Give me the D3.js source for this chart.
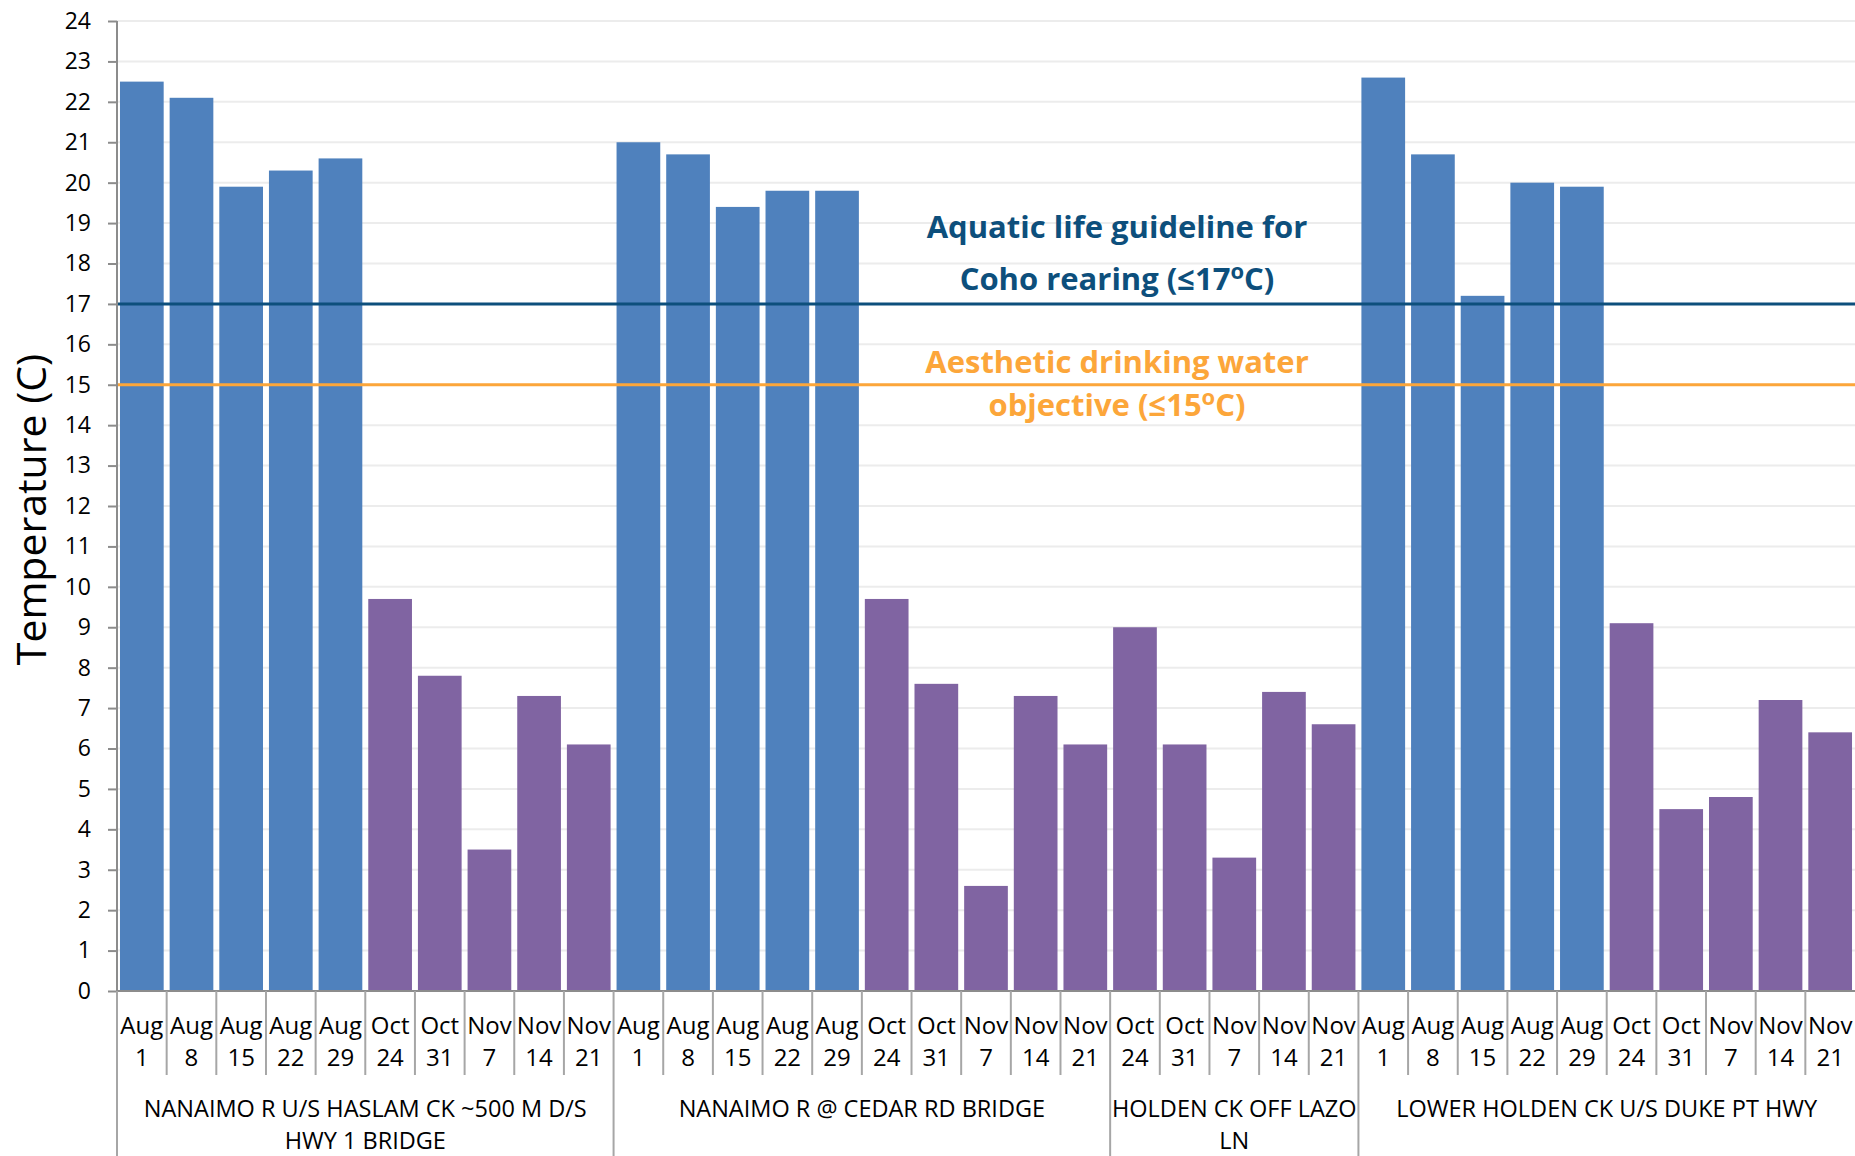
<!DOCTYPE html>
<html>
<head>
<meta charset="utf-8">
<script src="https://cdn.jsdelivr.net/npm/d3@7"></script>
<style>
    body { margin: 0; background: #fff; }
    svg { display: block; font-family: 'Open Sans', 'Noto Sans', sans-serif; }
</style>
</head>
<body>
<svg id="chart"></svg>
<script>
// Sampling sites (group labels, already split into lines as in the source)
const siteLabels = [
    ['NANAIMO R U/S HASLAM CK ~500 M D/S', 'HWY 1 BRIDGE'],
    ['NANAIMO R @ CEDAR RD BRIDGE'],
    ['HOLDEN CK OFF LAZO', 'LN'],
    ['LOWER HOLDEN CK U/S DUKE PT HWY']
];

// Sampling dates per site
const fullDates = ['Aug 1', 'Aug 8', 'Aug 15', 'Aug 22', 'Aug 29', 'Oct 24', 'Oct 31', 'Nov 7', 'Nov 14', 'Nov 21'];
const lazoDates = ['Oct 24', 'Oct 31', 'Nov 7', 'Nov 14', 'Nov 21'];

// Temperatures (C)
const haslamTemps = [22.5, 22.1, 19.9, 20.3, 20.6, 9.7, 7.8, 3.5, 7.3, 6.1];
const cedarTemps = [21.0, 20.7, 19.4, 19.8, 19.8, 9.7, 7.6, 2.6, 7.3, 6.1];
const lazoTemps = [9.0, 6.1, 3.3, 7.4, 6.6];
const dukeTemps = [22.6, 20.7, 17.2, 20.0, 19.9, 9.1, 4.5, 4.8, 7.2, 6.4];

// Guidelines
const cohoLimit = 17;
const drinkingLimit = 15;
const cohoText = ['Aquatic life guideline for', 'Coho rearing (\u226417'];
const drinkingText = ['Aesthetic drinking water', 'objective (\u226415'];

const yTicks = [0, 1, 2, 3, 4, 5, 6, 7, 8, 9, 10, 11, 12, 13, 14, 15, 16, 17, 18, 19, 20, 21, 22, 23, 24];

(function() {
    'use strict';

    const width = 1855, height = 1156;
    const margin = { top: 21, right: 0, left: 117 };
    const plotBottom = 991;

    const sites = [
        { label: siteLabels[0], dates: fullDates, temps: haslamTemps },
        { label: siteLabels[1], dates: fullDates, temps: cedarTemps },
        { label: siteLabels[2], dates: lazoDates, temps: lazoTemps },
        { label: siteLabels[3], dates: fullDates, temps: dukeTemps }
    ];

    // flatten into one row per bar
    const rows = [];
    sites.forEach((s, si) => {
        s.dates.forEach((d, di) => {
            rows.push({ id: si + '-' + di, site: si, date: d, value: s.temps[di] });
        });
    });

    const svg = d3.select('#chart')
        .attr('width', width)
        .attr('height', height);

    const xScale = d3.scaleBand()
        .domain(rows.map(d => d.id))
        .range([margin.left, width - margin.right])
        .paddingInner(0.12)
        .paddingOuter(0.06);

    const yScale = d3.scaleLinear()
        .domain([0, 24])
        .range([plotBottom, margin.top]);

    const step = xScale.step();
    const slotLeft = d => xScale(d) - step * xScale.paddingInner() / 2;

    // Grid lines
    svg.append('g')
        .selectAll('line')
        .data(yTicks.filter(t => t > 0))
        .enter()
        .append('line')
        .attr('x1', margin.left)
        .attr('x2', width)
        .attr('y1', d => yScale(d))
        .attr('y2', d => yScale(d))
        .attr('stroke', '#ececec')
        .attr('stroke-width', 2);

    // Bars
    svg.append('g')
        .selectAll('rect')
        .data(rows)
        .enter()
        .append('rect')
        .attr('x', d => xScale(d.id))
        .attr('y', d => yScale(d.value))
        .attr('width', xScale.bandwidth())
        .attr('height', d => yScale(0) - yScale(d.value))
        .attr('fill', d => d.date.startsWith('Aug') ? '#4f81bd' : '#8064a2');

    // Guideline lines
    svg.append('line')
        .attr('x1', margin.left).attr('x2', width)
        .attr('y1', yScale(cohoLimit)).attr('y2', yScale(cohoLimit))
        .attr('stroke', '#0d4f7c')
        .attr('stroke-width', 3);

    svg.append('line')
        .attr('x1', margin.left).attr('x2', width)
        .attr('y1', yScale(drinkingLimit)).attr('y2', yScale(drinkingLimit))
        .attr('stroke', '#fca63a')
        .attr('stroke-width', 3);

    // Guideline annotations
    function addNote(lines, ys, color) {
        lines.forEach((t, i) => {
            const txt = svg.append('text')
                .attr('x', 1117)
                .attr('y', ys[i])
                .attr('text-anchor', 'middle')
                .style('font-size', '31px')
                .style('font-weight', '700')
                .style('fill', color);
            txt.append('tspan').text(t);
            if (i === lines.length - 1) {
                txt.append('tspan').attr('dy', -11).style('font-size', '22px').text('o');
                txt.append('tspan').attr('dy', 11).text('C)');
            }
        });
    }
    addNote(cohoText, [238, 290], '#0d4f7c');
    addNote(drinkingText, [373, 416], '#fca63a');

    // Y axis
    const yAxis = svg.append('g')
        .attr('transform', `translate(${margin.left}, 0)`)
        .call(d3.axisLeft(yScale).tickValues(yTicks).tickSize(9).tickPadding(17));

    yAxis.select('.domain').remove();
    yAxis.selectAll('line').attr('stroke', '#8c8c8c').attr('stroke-width', 2);
    yAxis.selectAll('text')
        .style('font-size', '23px')
        .style('font-family', "'Open Sans', sans-serif")
        .attr('fill', '#000');

    // Axis lines (left axis runs down to the group label area)
    svg.append('line')
        .attr('x1', margin.left).attr('x2', margin.left)
        .attr('y1', margin.top).attr('y2', height)
        .attr('stroke', '#8c8c8c').attr('stroke-width', 2);

    svg.append('line')
        .attr('x1', margin.left).attr('x2', width)
        .attr('y1', plotBottom).attr('y2', plotBottom)
        .attr('stroke', '#8c8c8c').attr('stroke-width', 2);

    // Category separators and labels
    const groupStarts = new Set(rows.filter(d => d.id.endsWith('-0')).map(d => d.id));

    svg.append('g')
        .selectAll('line')
        .data(rows.filter(d => !groupStarts.has(d.id)))
        .enter()
        .append('line')
        .attr('x1', d => slotLeft(d.id))
        .attr('x2', d => slotLeft(d.id))
        .attr('y1', plotBottom)
        .attr('y2', 1075)
        .attr('stroke', '#a6a6a6')
        .attr('stroke-width', 2);

    svg.append('g')
        .selectAll('line')
        .data(rows.filter(d => groupStarts.has(d.id)))
        .enter()
        .append('line')
        .attr('x1', d => slotLeft(d.id))
        .attr('x2', d => slotLeft(d.id))
        .attr('y1', plotBottom)
        .attr('y2', height)
        .attr('stroke', '#a6a6a6')
        .attr('stroke-width', 2);

    const catLabels = svg.append('g')
        .selectAll('text')
        .data(rows)
        .enter()
        .append('text')
        .attr('text-anchor', 'middle')
        .style('font-size', '24px')
        .style('fill', '#000');

    catLabels.append('tspan')
        .attr('x', d => xScale(d.id) + xScale.bandwidth() / 2)
        .attr('y', 1034)
        .text(d => d.date.split(' ')[0]);

    catLabels.append('tspan')
        .attr('x', d => xScale(d.id) + xScale.bandwidth() / 2)
        .attr('y', 1066)
        .text(d => d.date.split(' ')[1]);

    // Site labels
    sites.forEach((s, si) => {
        const ids = rows.filter(d => d.site === si).map(d => d.id);
        const x0 = slotLeft(ids[0]);
        const x1 = slotLeft(ids[ids.length - 1]) + step;
        s.label.forEach((line, li) => {
            svg.append('text')
                .attr('x', (x0 + x1) / 2)
                .attr('y', 1117 + li * 32)
                .attr('text-anchor', 'middle')
                .style('font-size', '23.5px')
                .style('fill', '#000')
                .text(line);
        });
    });

    // Y axis title
    svg.append('text')
        .attr('transform', `translate(46, ${(352 + 667) / 2}) rotate(-90)`)
        .attr('text-anchor', 'middle')
        .style('font-size', '41px')
        .style('fill', '#000')
        .text('Temperature (C)');
})();
</script>
</body>
</html>
